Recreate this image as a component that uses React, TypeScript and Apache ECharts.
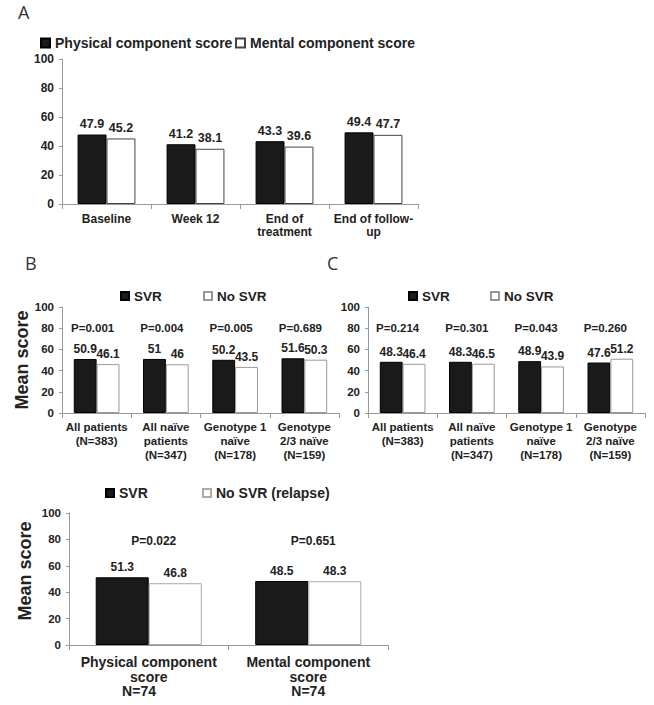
import React, { useEffect, useRef } from "react";
import * as echarts from "echarts";

const panelLetters = ["A", "B", "C"];

const catsA = ["Baseline", "Week 12", "End of\ntreatment", "End of follow-\nup"];
const physicalA = [47.9, 41.2, 43.3, 49.4];
const mentalA = [45.2, 38.1, 39.6, 47.7];

const catsBC = [
  "All patients\n(N=383)",
  "All naïve\npatients\n(N=347)",
  "Genotype 1\nnaïve\n(N=178)",
  "Genotype\n2/3 naïve\n(N=159)",
];
const svrB = [50.9, 51, 50.2, 51.6];
const noSvrB = [46.1, 46, 43.5, 50.3];
const pB = ["P=0.001", "P=0.004", "P=0.005", "P=0.689"];

const svrC = [48.3, 48.3, 48.9, 47.6];
const noSvrC = [46.4, 46.5, 43.9, 51.2];
const pC = ["P=0.214", "P=0.301", "P=0.043", "P=0.260"];

const catsD = ["Physical component\nscore\nN=74     ", "Mental component\nscore\nN=74"];
const svrD = [51.3, 48.5];
const noSvrD = [46.8, 48.3];
const pD = ["P=0.022", "P=0.651"];

const pLevelBC = 80;
const pLevelD = 79;

const FONT = '"Liberation Sans", Arial, Helvetica, sans-serif';
const AXIS = "#999";
const TXT = "#222";

function xAx(gridIndex: number, data: string[], fontSize: number, lineHeight: number, margin: number) {
  return {
    type: "category",
    gridIndex,
    data,
    axisLine: { show: true, lineStyle: { color: AXIS, width: 1 } },
    axisTick: { show: true, length: 5, lineStyle: { color: AXIS } },
    axisLabel: {
      interval: 0,
      fontFamily: FONT,
      fontWeight: "bold",
      fontSize,
      lineHeight,
      color: TXT,
      margin,
    },
    splitLine: { show: false },
  };
}

function yAx(gridIndex: number, fontSize: number, name?: string, namePad?: number[], nameGap?: number) {
  return {
    type: "value",
    gridIndex,
    min: 0,
    max: 100,
    interval: 20,
    axisLine: { show: true, lineStyle: { color: AXIS, width: 1 } },
    axisTick: { show: true, length: 3, lineStyle: { color: AXIS } },
    axisLabel: { fontFamily: FONT, fontWeight: "bold", fontSize, color: TXT, margin: 8 },
    splitLine: { show: false },
    name: name || "",
    nameLocation: "middle",
    nameRotate: 90,
    nameGap: nameGap || 30,
    nameTextStyle: {
      fontFamily: FONT,
      fontWeight: "bold",
      fontSize: 18,
      color: TXT,
      padding: namePad || [0, 0, 0, 0],
    },
  };
}

function barSeries(
  name: string,
  idx: number,
  data: number[],
  dark: boolean,
  gap: string,
  labelSize: number,
  borderGray: string
) {
  return {
    type: "bar",
    name,
    xAxisIndex: idx,
    yAxisIndex: idx,
    data,
    barGap: "0%",
    barCategoryGap: gap,
    itemStyle: dark
      ? { color: "#1a1a1a", borderColor: "#000", borderWidth: 1 }
      : { color: "#ffffff", borderColor: borderGray, borderWidth: 1 },
    label: {
      show: true,
      position: "top",
      distance: 4,
      fontFamily: FONT,
      fontWeight: "bold",
      fontSize: labelSize,
      color: TXT,
    },
    silent: true,
  };
}

function pSeries(idx: number, labels: string[], level: number, offsetX: number, fontSize: number) {
  return {
    type: "scatter",
    xAxisIndex: idx,
    yAxisIndex: idx,
    data: labels.map((_, i) => [i, level]),
    symbolSize: 0,
    itemStyle: { color: TXT, opacity: 1 },
    silent: true,
    label: {
      show: true,
      position: "inside",
      offset: [offsetX, 0],
      formatter: (p: any) => labels[p.dataIndex],
      fontFamily: FONT,
      fontWeight: "bold",
      fontSize,
      color: TXT,
      opacity: 1,
      textBorderWidth: 0,
      textBorderColor: "transparent",
    },
  };
}

function legendItem(name: string, left: number, top: number, size: number, fontSize: number) {
  return {
    data: [name],
    left,
    top,
    padding: 0,
    itemWidth: size,
    itemHeight: size,
    icon: "rect",
    selectedMode: false,
    textStyle: { fontFamily: FONT, fontWeight: "bold", fontSize, color: TXT, lineHeight: 14 },
  };
}

export default function App() {
  const ref = useRef<HTMLDivElement>(null);
  useEffect(() => {
    if (!ref.current) return;
    const chart = echarts.init(ref.current, null, { renderer: "svg" });
    const option: any = {
      animation: false,
      backgroundColor: "#ffffff",
      grid: [
        { left: 62, top: 59, width: 356, height: 145 },
        { left: 62, top: 307, width: 277, height: 106 },
        { left: 368, top: 307, width: 277, height: 106 },
        { left: 69, top: 513, width: 319, height: 132 },
      ],
      xAxis: [
        xAx(0, catsA, 12, 13, 8),
        xAx(1, catsBC, 11.5, 14, 7),
        xAx(2, catsBC, 11.5, 14, 7),
        xAx(3, catsD, 14, 14.5, 10),
      ],
      yAxis: [
        yAx(0, 12),
        yAx(1, 11.5, "Mean score", [0, 0, 0, 0], 30),
        yAx(2, 11.5),
        yAx(3, 11.5, "Mean score", [0, 0, 0, 16], 35),
      ],
      legend: [
        legendItem("Physical component score", 40, 36, 9, 14),
        legendItem("Mental component score", 235, 36, 9, 14),
        legendItem("SVR", 120, 289, 8, 13.5),
        legendItem("No SVR", 203, 289, 8, 13.5),
        legendItem("SVR", 408, 289, 8, 13.5),
        legendItem("No SVR", 490, 289, 8, 13.5),
        legendItem("SVR", 105, 486, 8, 14),
        legendItem("No SVR (relapse)", 202, 486, 8, 14),
      ],
      graphic: [
        { type: "text", left: 18, top: 3, style: { text: panelLetters[0], font: '18px "Open Sans"', fill: "#333" } },
        { type: "text", left: 25, top: 254, style: { text: panelLetters[1], font: '18px "Open Sans"', fill: "#333" } },
        { type: "text", left: 327, top: 254, style: { text: panelLetters[2], font: '18px "Open Sans"', fill: "#333" } },
      ],
      series: [
        barSeries("Physical component score", 0, physicalA, true, "35%", 12.5, "#444"),
        barSeries("Mental component score", 0, mentalA, false, "35%", 12.5, "#444"),
        barSeries("SVR", 1, svrB, true, "34%", 12, "#999"),
        barSeries("No SVR", 1, noSvrB, false, "34%", 12, "#999"),
        pSeries(1, pB, pLevelBC, -4, 11.5),
        barSeries("SVR", 2, svrC, true, "34%", 12, "#999"),
        barSeries("No SVR", 2, noSvrC, false, "34%", 12, "#999"),
        pSeries(2, pC, pLevelBC, -5, 11.5),
        barSeries("SVR", 3, svrD, true, "33.5%", 12, "#aaa"),
        barSeries("No SVR (relapse)", 3, noSvrD, false, "33.5%", 12, "#aaa"),
        pSeries(3, pD, pLevelD, 5, 12),
      ],
    };
    chart.setOption(option);
    return () => chart.dispose();
  }, []);
  return (
    <div
      ref={ref}
      style={{ position: "absolute", left: 0, top: 0, width: 654, height: 705, background: "#fff" }}
    />
  );
}
